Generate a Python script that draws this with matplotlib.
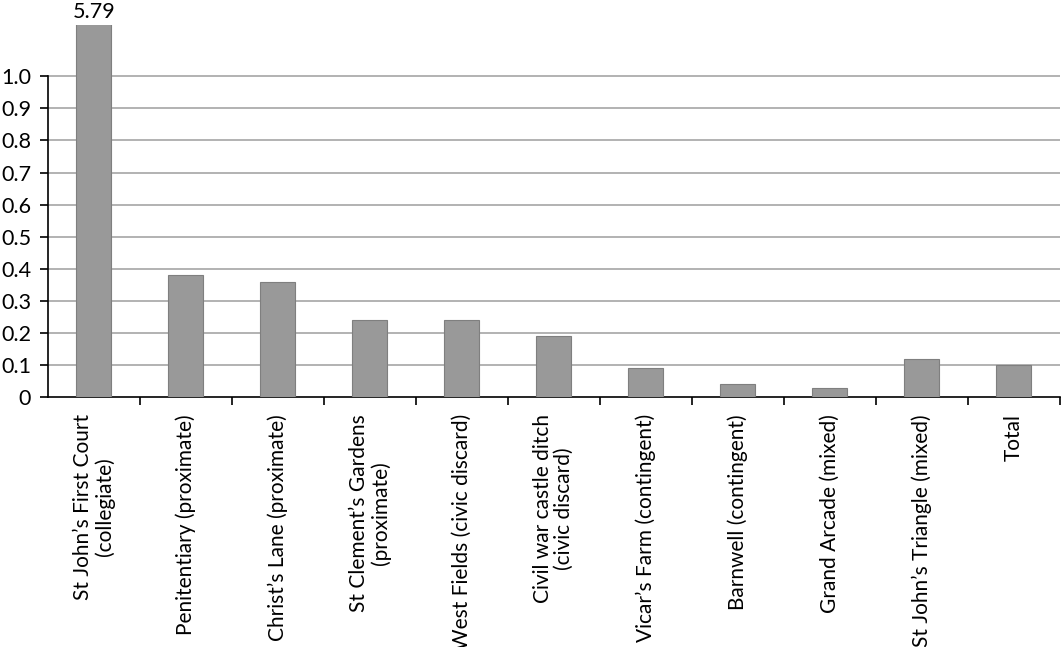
import matplotlib.pyplot as plt
import numpy as np

plt.rcParams['font.family'] = ['Lato', 'DejaVu Sans']

sites = ["St John\u2019s First Court\n(collegiate)",
         "Penitentiary (proximate)",
         "Christ\u2019s Lane (proximate)",
         "St Clement\u2019s Gardens\n(proximate)",
         "West Fields (civic discard)",
         "Civil war castle ditch\n(civic discard)",
         "Vicar\u2019s Farm (contingent)",
         "Barnwell (contingent)",
         "Grand Arcade (mixed)",
         "St John\u2019s Triangle (mixed)",
         "Total"]
values = [5.79, 0.38, 0.36, 0.24, 0.24, 0.19, 0.09, 0.04, 0.03, 0.12, 0.10]
yticks = [0, 0.1, 0.2, 0.3, 0.4, 0.5, 0.6, 0.7, 0.8, 0.9, 1.0]
ytick_labels = ["0", "0.1", "0.2", "0.3", "0.4", "0.5", "0.6", "0.7", "0.8", "0.9", "1.0"]

fig = plt.figure(figsize=(10.63, 6.47), dpi=100)
ax = fig.add_axes([0.045, 0.386, 0.952, 0.575])

x = np.arange(len(sites))
ax.bar(x, values, width=0.38, color='#999999', edgecolor='#7f7f7f', linewidth=0.8, zorder=3)
ax.set_xlim(-0.5, len(sites) - 0.5)
ax.set_ylim(0, 1.159)

# grid lines only up to 1.0
for t in yticks[1:]:
    ax.axhline(t, color='#a6a6a6', linewidth=1.2, zorder=1)

ax.set_yticks(yticks)
ax.set_yticklabels(ytick_labels, fontsize=15.5)
ax.tick_params(axis='y', length=6, width=1.2, direction='out', pad=6)

# category labels under each bar, ticks at the boundaries
ax.set_xticks(x)
ax.set_xticklabels(sites, rotation=90, fontsize=15, va='top', ha='center',
                   multialignment='center', linespacing=1.05)
ax.tick_params(axis='x', which='major', length=0, pad=12)
ax.set_xticks(np.arange(len(sites)) + 0.5, minor=True)
ax.tick_params(axis='x', which='minor', length=6, width=1.2, direction='out')

for s in ['top', 'right']:
    ax.spines[s].set_visible(False)
ax.spines['left'].set_bounds(0, 1.0)
ax.spines['left'].set_linewidth(1.2)
ax.spines['bottom'].set_linewidth(1.2)

ax.text(x[0], 1.17, f"{values[0]:.2f}", ha='center', va='bottom', fontsize=15.5,
        transform=ax.transData, clip_on=False)

fig.savefig('out.png', dpi=100)
